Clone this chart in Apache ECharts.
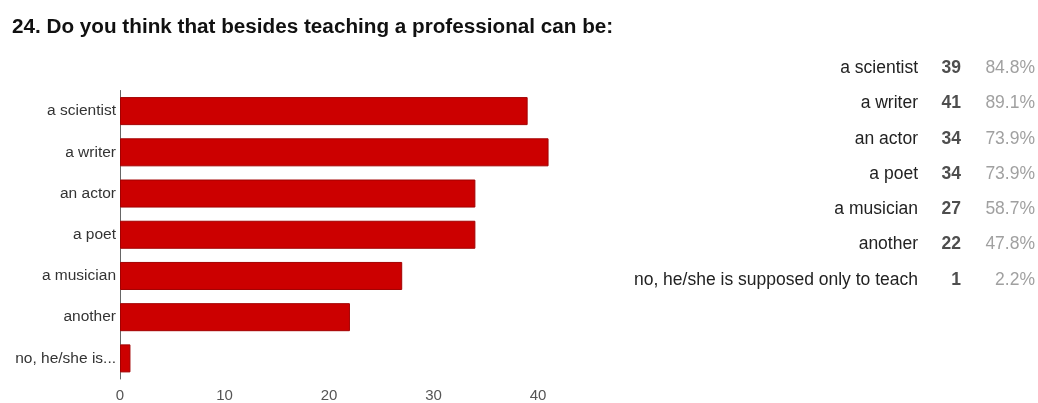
<!DOCTYPE html>
<html><head><meta charset="utf-8">
<script src="https://cdn.jsdelivr.net/npm/echarts@6/dist/echarts.min.js"></script>
<style>html,body{margin:0;padding:0;background:#fff}#c{width:1038px;height:403px}</style>
</head><body><div id="c"></div>
<script>
const titleText = "24. Do you think that besides teaching a professional can be:";
const categories = ["a scientist","a writer","an actor","a poet","a musician","another","no, he/she is supposed only to teach"];
const counts = [39,41,34,34,27,22,1];
const percents = ["84.8%","89.1%","73.9%","73.9%","58.7%","47.8%","2.2%"];
const xTicks = [0,10,20,30,40];

const chart = echarts.init(document.getElementById('c'));
const FONT = 'Liberation Sans, Arial, sans-serif';
chart.setOption({
  animation:false,
  textStyle:{fontFamily:FONT},
  title:{text:titleText,left:7,top:12,textStyle:{fontFamily:FONT,fontSize:20.7,fontWeight:'bold',color:'#111'}},
  grid:[
    {left:120,top:90.5,width:439,height:289},
    {left:961,top:50.5,width:74,height:247}
  ],
  xAxis:[
    {gridIndex:0,type:'value',min:0,max:42,interval:10,
     axisLine:{show:false},axisTick:{show:false},splitLine:{show:false},
     axisLabel:{margin:9,fontSize:15,color:'#555',fontFamily:FONT,
       formatter:v=>xTicks.includes(v)?String(v):''}},
    {gridIndex:1,type:'value',min:0,max:1,show:false}
  ],
  yAxis:[
    {gridIndex:0,type:'category',data:categories,inverse:true,
     axisLine:{show:true,lineStyle:{color:'#666',width:1}},axisTick:{show:false},
     axisLabel:{margin:4,fontSize:15.5,color:'#333',fontFamily:FONT,
       formatter:v=>v.length>16?v.slice(0,13)+'...':v}},
    {gridIndex:1,type:'category',data:categories,inverse:true,
     axisLine:{show:false},axisTick:{show:false},
     axisLabel:{margin:43,fontSize:17.5,color:'#222',fontFamily:FONT}}
  ],
  series:[
    {type:'bar',xAxisIndex:0,yAxisIndex:0,data:counts,barCategoryGap:'32%',
     itemStyle:{color:'#cc0000',borderColor:'#a30000',borderWidth:1}},
    {type:'scatter',xAxisIndex:1,yAxisIndex:1,symbolSize:0,
     data:counts.map((c,i)=>[0,i,c]),
     label:{show:true,position:'left',distance:0,formatter:p=>p.data[2],fontSize:17.5,fontWeight:'bold',color:'#222',fontFamily:FONT}},
    {type:'scatter',xAxisIndex:1,yAxisIndex:1,symbolSize:0,
     data:percents.map((c,i)=>[1,i,c]),
     label:{show:true,position:'left',distance:0,formatter:p=>p.data[2],fontSize:17.5,color:'#888',fontFamily:FONT}}
  ]
});
</script></body></html>
